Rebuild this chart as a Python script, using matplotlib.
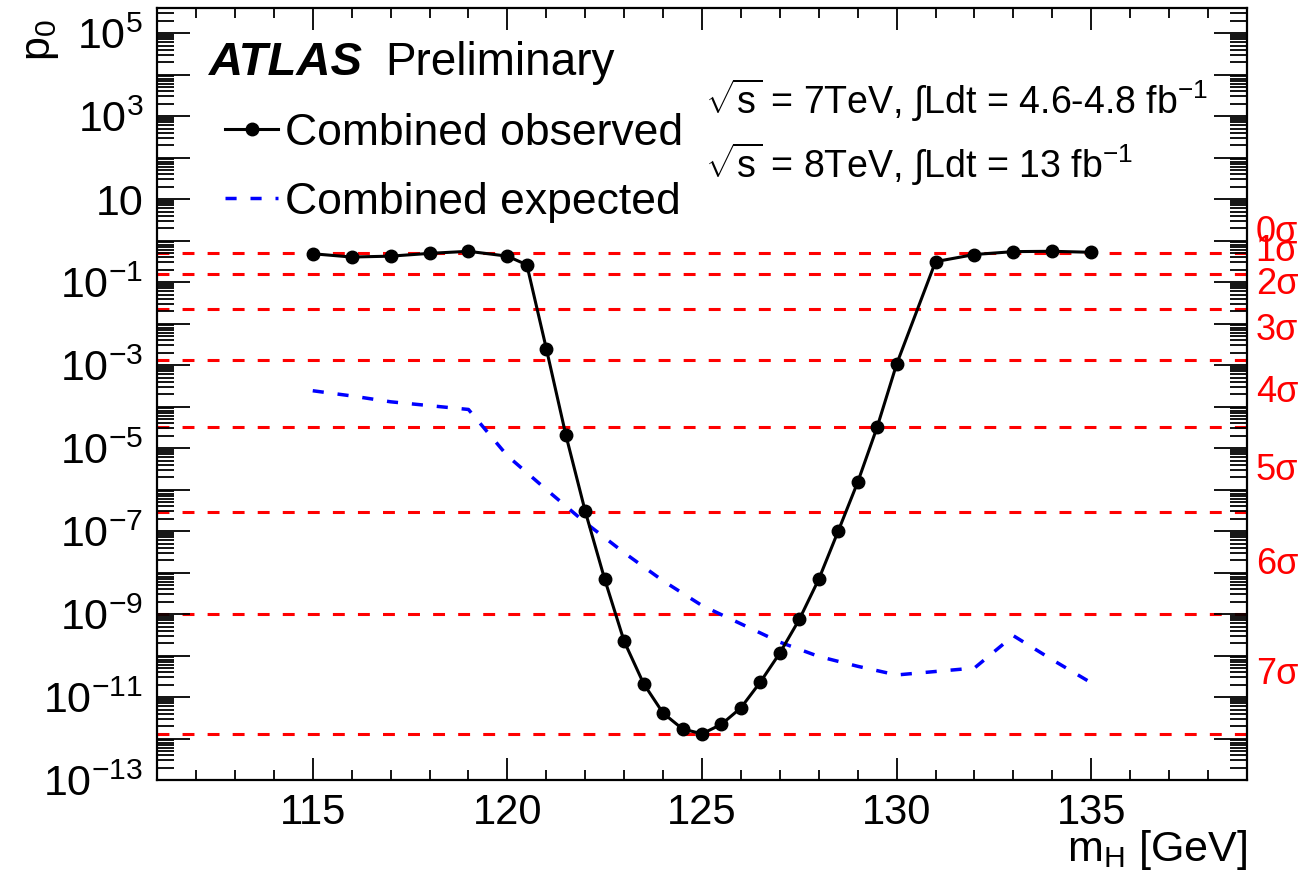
import numpy as np
import matplotlib
matplotlib.use("Agg")
import matplotlib.pyplot as plt
from matplotlib.ticker import LogLocator, FuncFormatter, NullFormatter, MultipleLocator

plt.rcParams['font.family'] = ['Liberation Sans', 'DejaVu Sans']
plt.rcParams['mathtext.fontset'] = 'custom'
plt.rcParams['mathtext.rm'] = 'Liberation Sans'
plt.rcParams['mathtext.it'] = 'Liberation Sans:italic'
plt.rcParams['mathtext.bf'] = 'Liberation Sans:bold'
narrow = ['Liberation Sans Narrow', 'Liberation Sans', 'DejaVu Sans']

# observed local p0
mass_obs = [115, 116, 117, 118, 119, 120, 120.5, 121, 121.5, 122, 122.5, 123, 123.5,
            124, 124.5, 125, 125.5, 126, 126.5, 127, 127.5, 128, 128.5, 129, 129.5,
            130, 131, 132, 133, 134, 135]
p0_obs = [0.48, 0.40, 0.42, 0.49, 0.55, 0.42, 0.26, 2.5e-3, 2.1e-5, 3.0e-7, 6.9e-9,
          2.2e-10, 2.1e-11, 4.1e-12, 1.7e-12, 1.3e-12, 2.2e-12, 5.5e-12, 2.3e-11,
          1.15e-10, 7.4e-10, 6.9e-9, 1.0e-7, 1.5e-6, 3.2e-5, 1.05e-3, 0.31, 0.46,
          0.54, 0.55, 0.52]

# expected p0
mass_exp = [115, 116, 117, 118, 119, 120, 121, 122, 123, 124, 125, 126, 127, 128,
            129, 130, 132, 133, 134, 135]
p0_exp = [2.4e-4, 1.8e-4, 1.3e-4, 1.05e-4, 8.5e-5, 6.5e-6, 1.0e-6, 1.6e-7, 3.0e-8,
          6.3e-9, 1.6e-9, 5.8e-10, 2.1e-10, 9.5e-11, 5.5e-11, 3.4e-11, 5.0e-11,
          3.0e-10, 7.9e-11, 2.2e-11]

# significance reference lines
sigma_p = [0.5, 0.1587, 0.02275, 1.35e-3, 3.17e-5, 2.87e-7, 9.87e-10, 1.28e-12]
sigma_labels = ['0σ', '1σ', '2σ', '3σ', '4σ', '5σ', '6σ', '7σ']

ymin, ymax = 1e-13, 4e5

fig = plt.figure(figsize=(13.13, 8.73), dpi=100)
ax = fig.add_axes([0.1196, 0.1065, 0.8301, 0.8843])
ax.set_yscale('log')
ax.set_xlim(111, 139)
ax.set_ylim(ymin, ymax)

for p in sigma_p:
    ax.axhline(p, color='#ff0000', lw=2.2, ls=(0, (3.9, 4.3)), zorder=1)

ax.plot(mass_exp, p0_exp, color='#0000ff', lw=2.5, ls=(0, (3.2, 4.0)), zorder=2,
        label='Combined expected')
ax.plot(mass_obs, p0_obs, color='black', lw=2.2, marker='o', ms=9, zorder=3,
        label='Combined observed')

# sigma labels right of the frame
lo, hi = np.log10(ymin), np.log10(ymax)
for p, lab in zip(sigma_p, sigma_labels):
    ftop = (hi - np.log10(p)) / (hi - lo)
    ax.text(1.008, 1 - 0.918 * ftop, lab, transform=ax.transAxes, color='#ff0000',
            fontsize=26, va='center', ha='left')

# axes styling
for s in ax.spines.values():
    s.set_linewidth(1.6)
ax.yaxis.set_major_locator(LogLocator(base=10, numticks=100))
ax.yaxis.set_minor_locator(LogLocator(base=10, subs=np.arange(2, 10), numticks=100))
ax.yaxis.set_minor_formatter(NullFormatter())

def ylab(v, pos):
    e = int(round(np.log10(v)))
    if e % 2 == 0:
        return ''
    if e == 1:
        return '10'
    return r'$10^{%d}$' % e

ax.yaxis.set_major_formatter(FuncFormatter(ylab))
ax.xaxis.set_major_locator(MultipleLocator(5))
ax.xaxis.set_minor_locator(MultipleLocator(1))
ax.tick_params(which='both', direction='in', top=True, right=True, width=1.3)
ax.tick_params(axis='y', which='major', length=24, pad=10, labelsize=31)
ax.tick_params(axis='y', which='minor', length=12)
ax.tick_params(axis='x', which='major', length=16, pad=9, labelsize=30)
ax.tick_params(axis='x', which='minor', length=7)
for t in ax.get_xticklabels():
    t.set_family(narrow)

ax.set_xlabel(r'm$_{\rm H}$ [GeV]', loc='right', fontsize=31, family=narrow)
ax.xaxis.set_label_coords(1.0, -0.062)
ax.xaxis.label.set_va('top')
ax.set_ylabel(r'p$_0$', loc='top', fontsize=31)
ax.yaxis.set_label_coords(-0.088, 0.985)

# ATLAS label
ax.text(0.048, 0.929, 'ATLAS', transform=ax.transAxes, fontsize=34,
        fontweight='bold', fontstyle='italic', va='center', ha='left')
ax.text(0.209, 0.929, 'Preliminary', transform=ax.transAxes, fontsize=33,
        va='center', ha='left')

ax.text(0.503, 0.881, r'$\sqrt{\mathrm{s}}$ = 7TeV, $\int$Ldt = 4.6-4.8 fb$^{-1}$',
        transform=ax.transAxes, fontsize=27, va='center', ha='left')
ax.text(0.503, 0.797, r'$\sqrt{\mathrm{s}}$ = 8TeV, $\int$Ldt = 13 fb$^{-1}$',
        transform=ax.transAxes, fontsize=27, va='center', ha='left')

h, l = ax.get_legend_handles_labels()
ax.legend(h[::-1], l[::-1], loc='upper left', bbox_to_anchor=(0.046, 0.887),
          frameon=False, fontsize=32, handlelength=1.2, handletextpad=0.15,
          labelspacing=0.62, borderaxespad=0)

fig.savefig('out.png', dpi=100)
